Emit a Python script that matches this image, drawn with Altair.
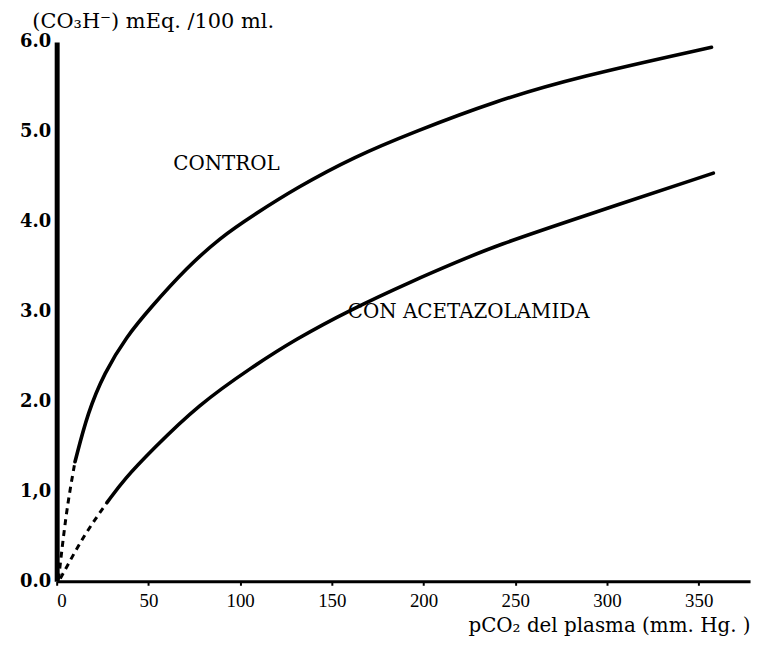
import altair as alt
import pandas as pd

# ---- data ----
control_x = [10, 17, 26, 38, 51, 71, 89, 107, 131, 162, 195, 239, 284, 357]
control_y = [1.33, 1.88, 2.32, 2.72, 3.04, 3.49, 3.82, 4.07, 4.38, 4.72, 5.0, 5.34, 5.61, 5.94]
control_dash_x = [1, 5, 10]
control_dash_y = [0.02, 0.7, 1.33]

acet_x = [27.6, 37, 52, 77, 107, 130, 160, 195, 218, 239, 284, 358]
acet_y = [0.88, 1.14, 1.46, 1.96, 2.39, 2.69, 3.02, 3.35, 3.55, 3.73, 4.04, 4.54]
acet_dash_x = [2, 15, 27.6]
acet_dash_y = [0.03, 0.5, 0.88]

control_label = ["CONTROL"]
control_label_x = [92.6]
control_label_y = [4.64]
acet_label = ["CON ACETAZOLAMIDA"]
acet_label_x = [158.7]
acet_label_y = [3.0]

x_ticks = [0, 50, 100, 150, 200, 250, 300, 350]
y_ticks = [0, 1, 2, 3, 4, 5, 6]

FONT = "DejaVu Serif"
NUMFONT = "Liberation Serif"

solid = pd.concat([
    pd.DataFrame({"x": control_x, "y": control_y, "serie": "control"}),
    pd.DataFrame({"x": acet_x, "y": acet_y, "serie": "acet"}),
])
dashed = pd.concat([
    pd.DataFrame({"x": control_dash_x, "y": control_dash_y, "serie": "control"}),
    pd.DataFrame({"x": acet_dash_x, "y": acet_dash_y, "serie": "acet"}),
])
lab_c = pd.DataFrame({"t": control_label, "x": control_label_x, "y": control_label_y})
lab_a = pd.DataFrame({"t": acet_label, "x": acet_label_x, "y": acet_label_y})

xscale = alt.Scale(domain=[0, 378], nice=False, zero=False)
yscale = alt.Scale(domain=[0, 6], nice=False)

xenc = alt.X("x:Q", scale=xscale, axis=alt.Axis(
    values=x_ticks, format="d", grid=False, ticks=True, tickSize=4, tickWidth=2,
    tickColor="black",
    domainWidth=3, domainColor="black", labelPadding=6,
    labelFont=NUMFONT, labelFontSize=19, labelColor="black",
    title="pCO₂ del plasma (mm. Hg. )", titleFont=FONT, titleFontSize=20,
    titleFontWeight="normal", titleColor="black", titleAlign="right",
    titleAnchor="end", titleX=698, titleY=45, titleBaseline="middle"))
yenc = alt.Y("y:Q", scale=yscale, axis=alt.Axis(
    values=y_ticks, grid=False, ticks=False,
    labelExpr="datum.value == 1 ? '1,0' : format(datum.value, '.1f')",
    domainWidth=5, domainColor="black", labelPadding=6,
    labelFont=FONT, labelFontSize=18, labelColor="black", labelFontWeight="bold",
    title="(CO₃H⁻) mEq. /100 ml.", titleFont=FONT, titleFontSize=21,
    titleFontWeight="normal", titleColor="black", titleAngle=0,
    titleAlign="left", titleX=-25, titleY=-20, titleBaseline="middle"))

solid_lines = alt.Chart(solid).mark_line(
    color="black", strokeWidth=3.6, interpolate="basis", strokeCap="round"
).encode(x=xenc, y=yenc, detail="serie:N", order="x:Q")

dashed_lines = alt.Chart(dashed).mark_line(
    color="black", strokeWidth=3, strokeDash=[6, 5], interpolate="monotone"
).encode(x="x:Q", y="y:Q", detail="serie:N", order="x:Q")

text_c = alt.Chart(lab_c).mark_text(
    font=FONT, fontSize=20, color="black", baseline="middle", align="center"
).encode(x="x:Q", y="y:Q", text="t:N")
text_a = alt.Chart(lab_a).mark_text(
    font=FONT, fontSize=20, color="black", baseline="middle", align="left"
).encode(x="x:Q", y="y:Q", text="t:N")

chart = alt.layer(solid_lines, dashed_lines, text_c, text_a).properties(
    width=698, height=543,
    autosize=alt.AutoSizeParams(type="none"),
    padding={"left": 49, "top": 32, "right": 8, "bottom": 58},
).configure(
    background="white",
    view=alt.ViewConfig(stroke="transparent", strokeWidth=0),
)

chart.save("out.html", embed_options={"renderer": "svg", "actions": False})
